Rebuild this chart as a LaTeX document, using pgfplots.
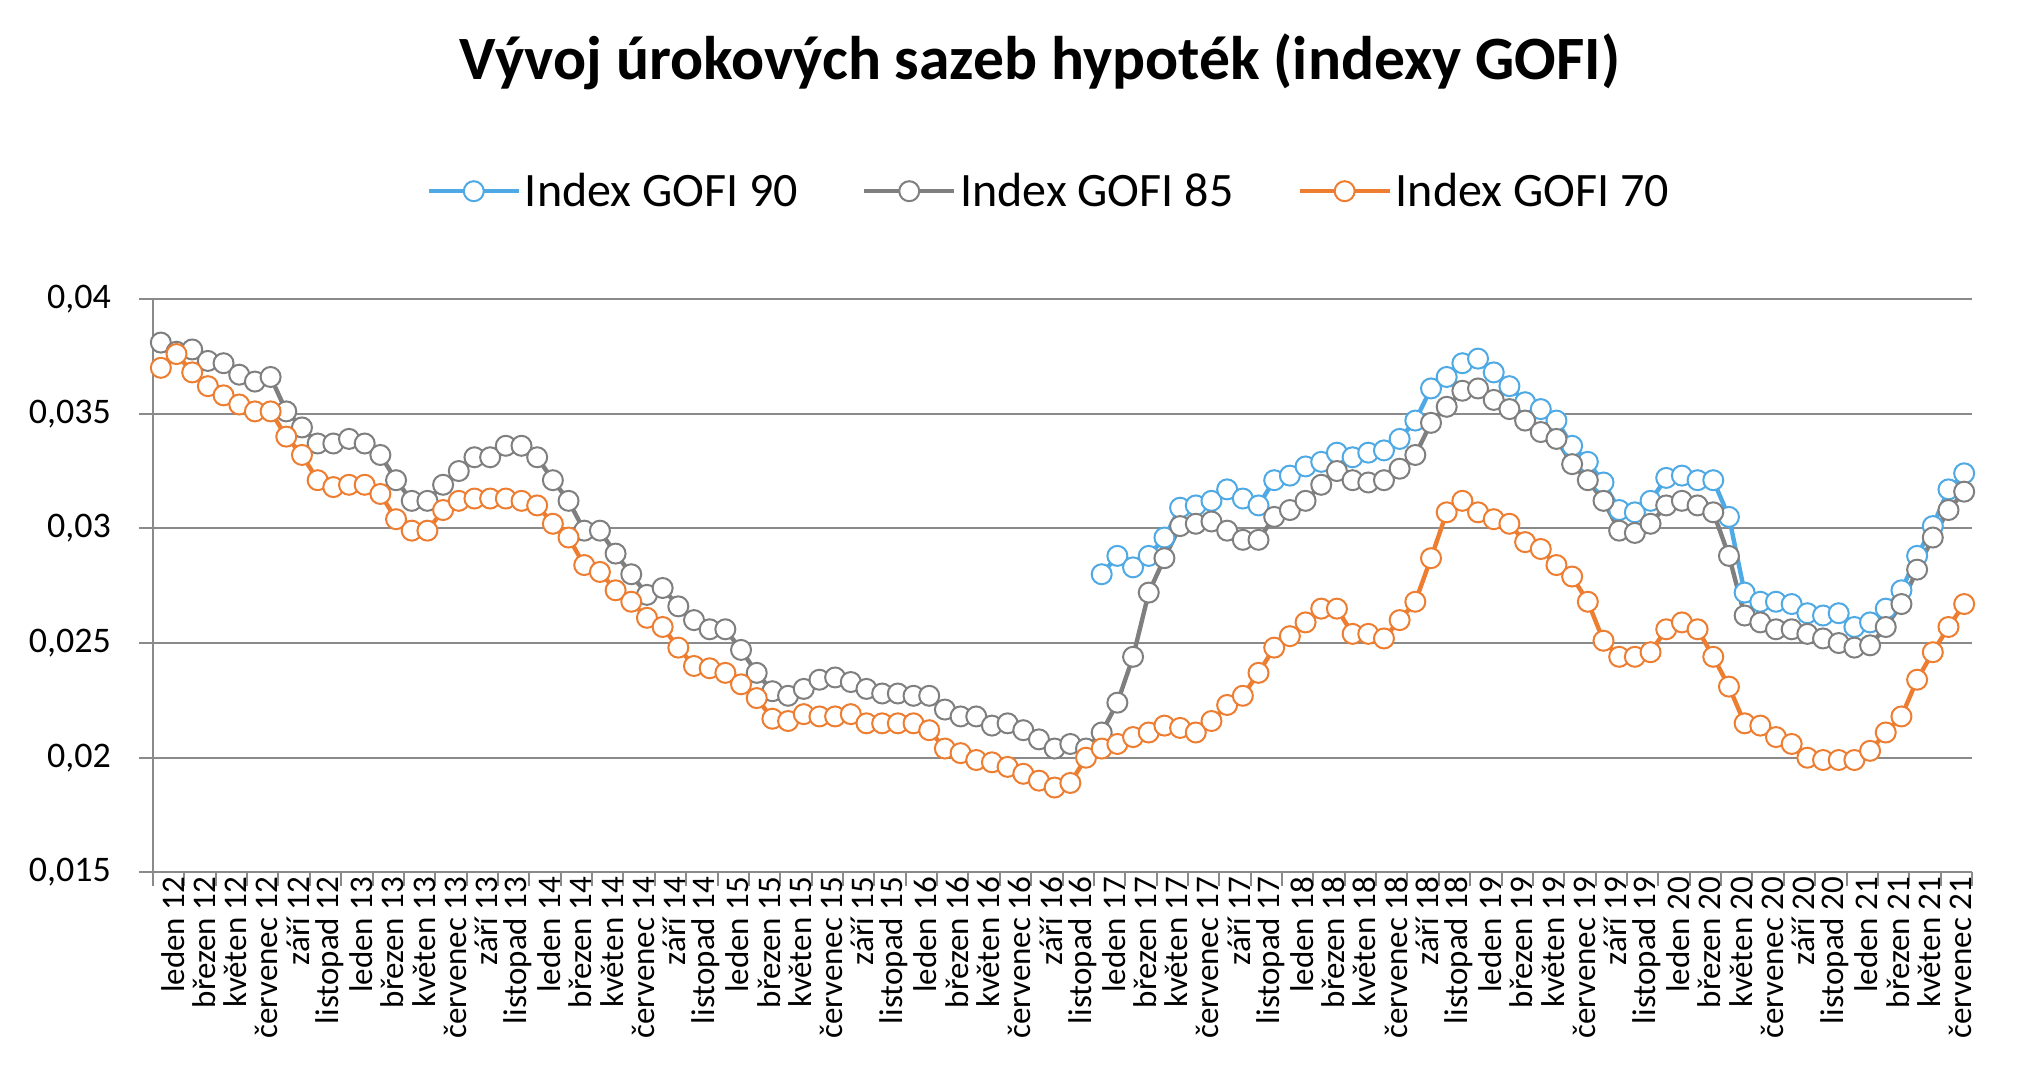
\documentclass[border=0pt]{standalone}
\usepackage{pgfplots}
\pgfplotsset{compat=1.18}
\usepackage{pgfplotstable}
\usepackage{fontspec}
\setmainfont{Carlito}
\definecolor{cninety}{HTML}{4EA9E4}
\definecolor{ceightyfive}{HTML}{7F7F7F}
\definecolor{cseventy}{HTML}{ED7D31}
\definecolor{cgrid}{HTML}{8A8A8A}

\pgfplotstableread{
x g85 g70
0 0.0381 0.0370
1 0.0377 0.0376
2 0.0378 0.0368
3 0.0373 0.0362
4 0.0372 0.0358
5 0.0367 0.0354
6 0.0364 0.0351
7 0.0366 0.0351
8 0.0351 0.0340
9 0.0344 0.0332
10 0.0337 0.0321
11 0.0337 0.0318
12 0.0339 0.0319
13 0.0337 0.0319
14 0.0332 0.0315
15 0.0321 0.0304
16 0.0312 0.0299
17 0.0312 0.0299
18 0.0319 0.0308
19 0.0325 0.0312
20 0.0331 0.0313
21 0.0331 0.0313
22 0.0336 0.0313
23 0.0336 0.0312
24 0.0331 0.0310
25 0.0321 0.0302
26 0.0312 0.0296
27 0.0299 0.0284
28 0.0299 0.0281
29 0.0289 0.0273
30 0.0280 0.0268
31 0.0271 0.0261
32 0.0274 0.0257
33 0.0266 0.0248
34 0.0260 0.0240
35 0.0256 0.0239
36 0.0256 0.0237
37 0.0247 0.0232
38 0.0237 0.0226
39 0.0229 0.0217
40 0.0227 0.0216
41 0.0230 0.0219
42 0.0234 0.0218
43 0.0235 0.0218
44 0.0233 0.0219
45 0.0230 0.0215
46 0.0228 0.0215
47 0.0228 0.0215
48 0.0227 0.0215
49 0.0227 0.0212
50 0.0221 0.0204
51 0.0218 0.0202
52 0.0218 0.0199
53 0.0214 0.0198
54 0.0215 0.0196
55 0.0212 0.0193
56 0.0208 0.0190
57 0.0204 0.0187
58 0.0206 0.0189
59 0.0204 0.0200
60 0.0211 0.0204
61 0.0224 0.0206
62 0.0244 0.0209
63 0.0272 0.0211
64 0.0287 0.0214
65 0.0301 0.0213
66 0.0302 0.0211
67 0.0303 0.0216
68 0.0299 0.0223
69 0.0295 0.0227
70 0.0295 0.0237
71 0.0305 0.0248
72 0.0308 0.0253
73 0.0312 0.0259
74 0.0319 0.0265
75 0.0325 0.0265
76 0.0321 0.0254
77 0.0320 0.0254
78 0.0321 0.0252
79 0.0326 0.0260
80 0.0332 0.0268
81 0.0346 0.0287
82 0.0353 0.0307
83 0.0360 0.0312
84 0.0361 0.0307
85 0.0356 0.0304
86 0.0352 0.0302
87 0.0347 0.0294
88 0.0342 0.0291
89 0.0339 0.0284
90 0.0328 0.0279
91 0.0321 0.0268
92 0.0312 0.0251
93 0.0299 0.0244
94 0.0298 0.0244
95 0.0302 0.0246
96 0.0310 0.0256
97 0.0312 0.0259
98 0.0310 0.0256
99 0.0307 0.0244
100 0.0288 0.0231
101 0.0262 0.0215
102 0.0259 0.0214
103 0.0256 0.0209
104 0.0256 0.0206
105 0.0254 0.0200
106 0.0252 0.0199
107 0.0250 0.0199
108 0.0248 0.0199
109 0.0249 0.0203
110 0.0257 0.0211
111 0.0267 0.0218
112 0.0282 0.0234
113 0.0296 0.0246
114 0.0308 0.0257
115 0.0316 0.0267
}\tabmain

\pgfplotstableread{
x g90
60 0.0280
61 0.0288
62 0.0283
63 0.0288
64 0.0296
65 0.0309
66 0.0310
67 0.0312
68 0.0317
69 0.0313
70 0.0310
71 0.0321
72 0.0323
73 0.0327
74 0.0329
75 0.0333
76 0.0331
77 0.0333
78 0.0334
79 0.0339
80 0.0347
81 0.0361
82 0.0366
83 0.0372
84 0.0374
85 0.0368
86 0.0362
87 0.0355
88 0.0352
89 0.0347
90 0.0336
91 0.0329
92 0.0320
93 0.0308
94 0.0307
95 0.0312
96 0.0322
97 0.0323
98 0.0321
99 0.0321
100 0.0305
101 0.0272
102 0.0268
103 0.0268
104 0.0267
105 0.0263
106 0.0262
107 0.0263
108 0.0257
109 0.0259
110 0.0265
111 0.0273
112 0.0288
113 0.0301
114 0.0317
115 0.0324
}\tabninety

\begin{document}
\begin{tikzpicture}
\path[use as bounding box] (-76.5pt,-102pt) rectangle (936.5pt,436.2pt);
\begin{axis}[
  at={(0,0)}, anchor=south west,
  scale only axis, width=909.5pt, height=286.7pt,
  xmin=-0.5, xmax=115.5, ymin=0.015, ymax=0.04,
  clip=false,
  axis x line*=bottom, axis y line*=left,
  axis line style={draw=cgrid, line width=1pt},
  ymajorgrids, grid style={draw=cgrid, line width=1pt},
  tick align=outside,
  major tick length=0pt,
  minor tick length=7pt,
  minor tick style={draw=cgrid, line width=1pt},
  xtick={0,2,...,114},
  minor xtick={-0.5,1.5,...,115.5},
  ytick={0.015,0.02,0.025,0.03,0.035,0.04},
  minor ytick={0.015,0.02,0.025,0.03,0.035,0.04},
  scaled y ticks=false,
  /pgf/number format/use comma,
  /pgf/number format/fixed,
  /pgf/number format/precision=3,
  /pgf/number format/assume math mode=true,
  yticklabel style={font=\fontsize{18}{18}\selectfont, xshift=-17.5pt},
  xticklabels={leden 12,březen 12,květen 12,červenec 12,září 12,listopad 12,
    leden 13,březen 13,květen 13,červenec 13,září 13,listopad 13,
    leden 14,březen 14,květen 14,červenec 14,září 14,listopad 14,
    leden 15,březen 15,květen 15,červenec 15,září 15,listopad 15,
    leden 16,březen 16,květen 16,červenec 16,září 16,listopad 16,
    leden 17,březen 17,květen 17,červenec 17,září 17,listopad 17,
    leden 18,březen 18,květen 18,červenec 18,září 18,listopad 18,
    leden 19,březen 19,květen 19,červenec 19,září 19,listopad 19,
    leden 20,březen 20,květen 20,červenec 20,září 20,listopad 20,
    leden 21,březen 21,květen 21,červenec 21},
  xticklabel style={font=\fontsize{16.5}{16.5}\selectfont, rotate=90, anchor=east, inner sep=2pt, yshift=-6pt},
  legend columns=3,
  legend style={at={(0.493,1.188)}, anchor=center, draw=none, fill=none,
    font=\fontsize{24}{24}\selectfont,
    /tikz/every even column/.append style={column sep=30pt}},
  legend image code/.code={\draw[mark repeat=2,mark phase=2,#1] plot coordinates {(0pt,0pt) (22.5pt,0pt) (45pt,0pt)};},
]
\addplot[color=cninety, line width=2.2pt, mark=*, mark size=5pt,
  mark options={fill=white, draw=cninety, line width=1pt}] table[x=x,y=g90] {\tabninety};
\addlegendentry{Index GOFI 90}
\addplot[color=ceightyfive, line width=2.2pt, mark=*, mark size=5pt,
  mark options={fill=white, draw=ceightyfive, line width=1pt}] table[x=x,y=g85] {\tabmain};
\addlegendentry{Index GOFI 85}
\addplot[color=cseventy, line width=2.2pt, mark=*, mark size=5pt,
  mark options={fill=white, draw=cseventy, line width=1pt}] table[x=x,y=g70] {\tabmain};
\addlegendentry{Index GOFI 70}
\node[font=\bfseries\fontsize{30.8}{30.8}\selectfont] at (rel axis cs:0.4876,1.413) {Vývoj úrokových sazeb hypoték (indexy GOFI)};
\end{axis}
\end{tikzpicture}
\end{document}
